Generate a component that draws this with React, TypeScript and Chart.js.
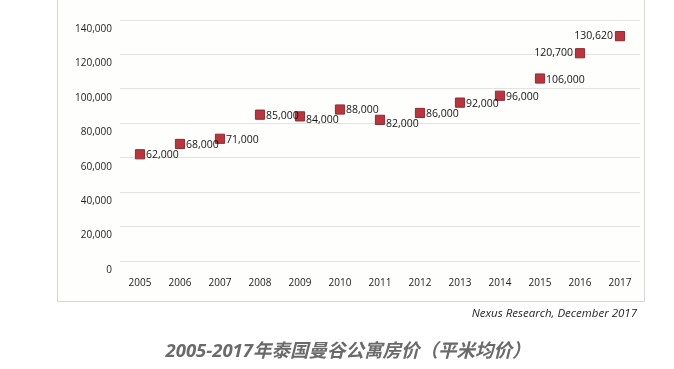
import React, { useEffect, useRef } from "react";
import { Chart, registerables } from "chart.js";

Chart.register(...registerables);

const years = ["2005","2006","2007","2008","2009","2010","2011","2012","2013","2014","2015","2016","2017"];
const prices = [62000, 68000, 71000, 85000, 84000, 88000, 82000, 86000, 92000, 96000, 106000, 120700, 130620];
const yTicks = [0, 20000, 40000, 60000, 80000, 100000, 120000, 140000];
const titleText = "2005-2017年泰国曼谷公寓房价（平米均价）";
const sourceText = "Nexus Research, December 2017";

const fmt = (v: number) => v.toLocaleString("en-US");

const cardPlugin = {
  id: "card",
  beforeDraw(chart: any) {
    const ctx = chart.ctx;
    ctx.save();
    ctx.fillStyle = "#fefefd";
    ctx.fillRect(57, -5, 587, 306);
    ctx.strokeStyle = "#d6d6d6";
    ctx.lineWidth = 1;
    ctx.strokeRect(57.5, -5, 587, 306.5);
    ctx.restore();
  },
};

const labelPlugin = {
  id: "pointLabels",
  afterDatasetsDraw(chart: any) {
    const ctx = chart.ctx;
    const meta = chart.getDatasetMeta(0);
    ctx.save();
    ctx.font = "10.5px 'Open Sans', sans-serif";
    ctx.fillStyle = "#151515";
    ctx.textBaseline = "middle";
    meta.data.forEach((pt: any, i: number) => {
      const txt = fmt(prices[i]);
      if (i >= prices.length - 2) {
        ctx.textAlign = "right";
        ctx.fillText(txt, pt.x - 7, pt.y);
      } else {
        ctx.textAlign = "left";
        const prev = i > 0 ? prices[i - 1] : prices[i];
        const dy = prices[i] < prev ? 4 : 1;
        ctx.fillText(txt, pt.x + 6, pt.y + dy);
      }
    });
    ctx.restore();
  },
};

export default function App() {
  const ref = useRef<HTMLCanvasElement | null>(null);
  useEffect(() => {
    if (!ref.current) return;
    const chart = new Chart(ref.current, {
      type: "line",
      data: {
        labels: years,
        datasets: [
          {
            data: prices,
            showLine: false,
            pointStyle: "rect",
            pointRadius: 6.5,
            pointHoverRadius: 6.5,
            backgroundColor: "#b8363f",
            borderColor: "#8c2a30",
            borderWidth: 1,
          },
        ],
      },
      options: {
        animation: false,
        responsive: false,
        maintainAspectRatio: false,
        layout: { padding: { left: 57, right: 34, top: 20, bottom: 68 } },
        plugins: { legend: { display: false }, tooltip: { enabled: false } },
        scales: {
          x: {
            offset: true,
            grid: { display: false, drawTicks: false },
            border: { display: false },
            ticks: { padding: 16, color: "#222", font: { family: "'Open Sans', sans-serif", size: 10 } },
            afterFit: (s: any) => { s.height = 40; },
          },
          y: {
            min: 0,
            max: 140000,
            afterBuildTicks: (s: any) => { s.ticks = yTicks.map((v) => ({ value: v })); },
            grid: { color: "#e3e3e3", drawTicks: false },
            border: { display: false },
            ticks: {
              padding: 8,
              labelOffset: 9,
              color: "#222",
              font: { family: "'Open Sans', sans-serif", size: 10 },
              callback: (v: any) => fmt(Number(v)),
            },
            afterFit: (s: any) => { s.width = 63; },
          },
        },
      },
      plugins: [cardPlugin, labelPlugin],
    });
    return () => chart.destroy();
  }, []);

  return (
    <div style={{ position: "fixed", left: 0, top: 0, width: 674, height: 369, background: "#fff", overflow: "hidden" }}>
      <canvas ref={ref} width={674} height={369} style={{ position: "absolute", left: 0, top: 0, width: 674, height: 369 }} />
      <div
        style={{
          position: "absolute",
          right: 37,
          top: 304,
          fontFamily: "'Open Sans', sans-serif",
          fontStyle: "italic",
          fontSize: 11.5,
          color: "#1e1e1e",
          whiteSpace: "nowrap",
          lineHeight: "18px",
        }}
      >
        {sourceText}
      </div>
      <div
        style={{
          position: "absolute",
          left: 0,
          width: 696,
          top: 338,
          textAlign: "center",
          fontFamily: "'Open Sans', 'Noto Sans CJK SC', sans-serif",
          fontStyle: "italic",
          fontWeight: 700,
          fontSize: 18.5,
          color: "#6a6a6a",
          whiteSpace: "nowrap",
          lineHeight: "24px",
        }}
      >
        {titleText}
      </div>
    </div>
  );
}
